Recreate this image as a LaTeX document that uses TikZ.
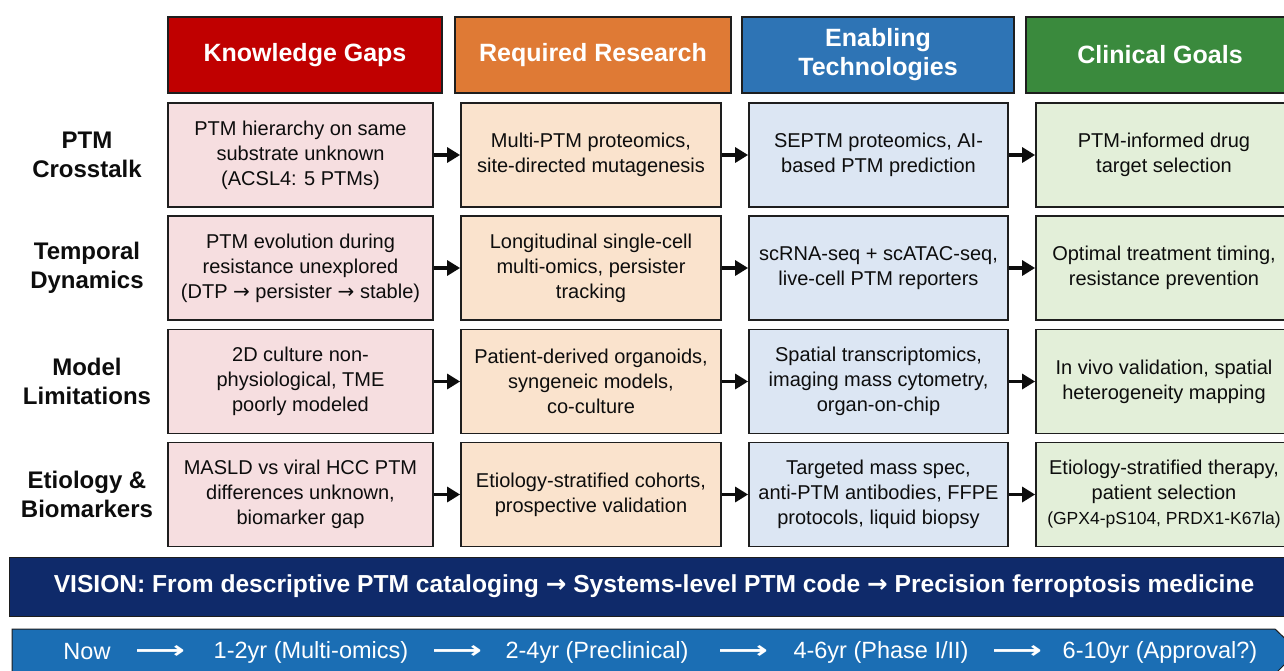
\documentclass[tikz,border=0pt]{standalone}
\usepackage{fontspec}
\setmainfont{Liberation Sans}
\newfontfamily\dejavu{DejaVu Sans}
\usetikzlibrary{arrows.meta}
\definecolor{kgH}{HTML}{C00000}
\definecolor{rrH}{HTML}{DF7A35}
\definecolor{etH}{HTML}{2E74B5}
\definecolor{cgH}{HTML}{3A8A3D}
\definecolor{kgF}{HTML}{F6DEE0}
\definecolor{rrF}{HTML}{FAE3CD}
\definecolor{etF}{HTML}{DCE6F3}
\definecolor{cgF}{HTML}{E3EFD9}
\definecolor{visF}{HTML}{0F2A6A}
\definecolor{tlF}{HTML}{1B6EB4}
\definecolor{edge}{HTML}{1E1E1E}
\newcommand{\rarr}{{\dejavu →}}
\begin{document}
\begin{tikzpicture}[x=1pt,y=-1pt,
  head/.style={draw=edge, line width=1.8pt, text=white, font=\fontsize{25}{29}\selectfont\bfseries, align=center, minimum height=76pt, inner sep=0pt},
  cell/.style={draw=edge, line width=1.8pt, font=\fontsize{20}{25}\selectfont, align=center, minimum height=104pt, inner sep=0pt, text=black!95},
  kgcell/.style={cell, fill=kgF, minimum width=265pt},
  rrcell/.style={cell, fill=rrF, minimum width=260pt},
  etcell/.style={cell, fill=etF, minimum width=259pt},
  cgcell/.style={cell, fill=cgF, minimum width=256pt},
  rowlab/.style={font=\fontsize{24}{29}\selectfont\bfseries, align=center, text=black!95},
  conn/.style={line width=3.2pt, draw=black!95, -{Triangle[length=13pt,width=15pt]}},
  tltext/.style={text=white, font=\fontsize{23.5}{28}\selectfont, inner sep=0pt},
  tlarrow/.style={text=white, font=\dejavu\bfseries\fontsize{24}{28}\selectfont, inner sep=0pt}
]
\useasboundingbox (0,0) rectangle (1284,670);
\clip (0,0) rectangle (1284,670);
\fill[white] (0,0) rectangle (1284,670);

% headers
\node[head, fill=kgH, minimum width=274pt] (hkg) at (305,55) {Knowledge Gaps};
\node[head, fill=rrH, minimum width=276pt] (hrr) at (593,55) {Required Research};
\node[head, fill=etH, minimum width=272pt] (het) at (878,55) {Enabling\\Technologies};
\node[head, fill=cgH, minimum width=268pt] (hcg) at (1160,55) {Clinical Goals};

% row labels
\node[rowlab] (l1) at (87,155) {PTM\\Crosstalk};
\node[rowlab] (l2) at (87,268) {Temporal\\Dynamics};
\node[rowlab] (l3) at (87,381.5) {Model\\Limitations};
\node[rowlab] (l4) at (87,494.5) {Etiology \&\\Biomarkers};

% row 1
\node[kgcell] (kg1) at (300.5,155) {PTM hierarchy on same\\substrate unknown\\(ACSL4: 5 PTMs)};
\node[rrcell] (rr1) at (591,155) {Multi-PTM proteomics,\\site-directed mutagenesis};
\node[etcell] (et1) at (878.5,155) {SEPTM proteomics, AI-\\based PTM prediction};
\node[cgcell] (cg1) at (1164,155) {PTM-informed drug\\target selection};
% row 2
\node[kgcell] (kg2) at (300.5,268) {PTM evolution during\\resistance unexplored\\(DTP \rarr\ persister \rarr\ stable)};
\node[rrcell] (rr2) at (591,268) {Longitudinal single-cell\\multi-omics, persister\\tracking};
\node[etcell] (et2) at (878.5,268) {scRNA-seq + scATAC-seq,\\live-cell PTM reporters};
\node[cgcell] (cg2) at (1164,268) {Optimal treatment timing,\\resistance prevention};
% row 3
\node[kgcell] (kg3) at (300.5,381.5) {2D culture non-\\physiological, TME\\poorly modeled};
\node[rrcell] (rr3) at (591,381.5) {Patient-derived organoids,\\syngeneic models,\\co-culture};
\node[etcell] (et3) at (878.5,381.5) {Spatial transcriptomics,\\imaging mass cytometry,\\organ-on-chip};
\node[cgcell] (cg3) at (1164,381.5) {In vivo validation, spatial\\heterogeneity mapping};
% row 4
\node[kgcell] (kg4) at (300.5,494.5) {MASLD vs viral HCC PTM\\differences unknown,\\biomarker gap};
\node[rrcell] (rr4) at (591,494.5) {Etiology-stratified cohorts,\\prospective validation};
\node[etcell] (et4) at (878.5,494.5) {Targeted mass spec,\\anti-PTM antibodies, FFPE\\protocols, liquid biopsy};
\node[cgcell] (cg4) at (1164,494.5) {Etiology-stratified therapy,\\patient selection\\{\fontsize{17.5}{22}\selectfont (GPX4-pS104, PRDX1-K67la)}};

% connectors
\foreach \r in {1,2,3,4}{
  \draw[conn] (kg\r.east) -- (rr\r.west);
  \draw[conn] (rr\r.east) -- (et\r.west);
  \draw[conn] (et\r.east) -- (cg\r.west);
}

% vision bar
\node[draw=edge, line width=1pt, fill=visF, text=white, minimum width=1290pt, minimum height=59pt, inner sep=0pt,
  font=\fontsize{24.6}{28}\selectfont\bfseries] (vision) at (654,586.5)
  {VISION: From descriptive PTM cataloging \rarr\ Systems-level PTM code \rarr\ Precision ferroptosis medicine};

% timeline bar
\draw[draw=edge, line width=1pt, fill=tlF] (12,629) -- (1275,629) -- (1298,651) -- (1275,674) -- (12,674) -- cycle;
\node[tltext] (t0) at (87,652) {Now};
\node[tlarrow] (a1) at (160,652) {\scalebox{1.45}[1]{⟶}};
\node[tltext] (t1) at (311,652) {1-2yr (Multi-omics)};
\node[tlarrow] (a2) at (457,652) {\scalebox{1.45}[1]{⟶}};
\node[tltext] (t2) at (597,652) {2-4yr (Preclinical)};
\node[tlarrow] (a3) at (743,652) {\scalebox{1.45}[1]{⟶}};
\node[tltext] (t3) at (881,652) {4-6yr (Phase I/II)};
\node[tlarrow] (a4) at (1017,652) {\scalebox{1.45}[1]{⟶}};
\node[tltext] (t4) at (1160,652) {6-10yr (Approval?)};
\end{tikzpicture}
\end{document}
